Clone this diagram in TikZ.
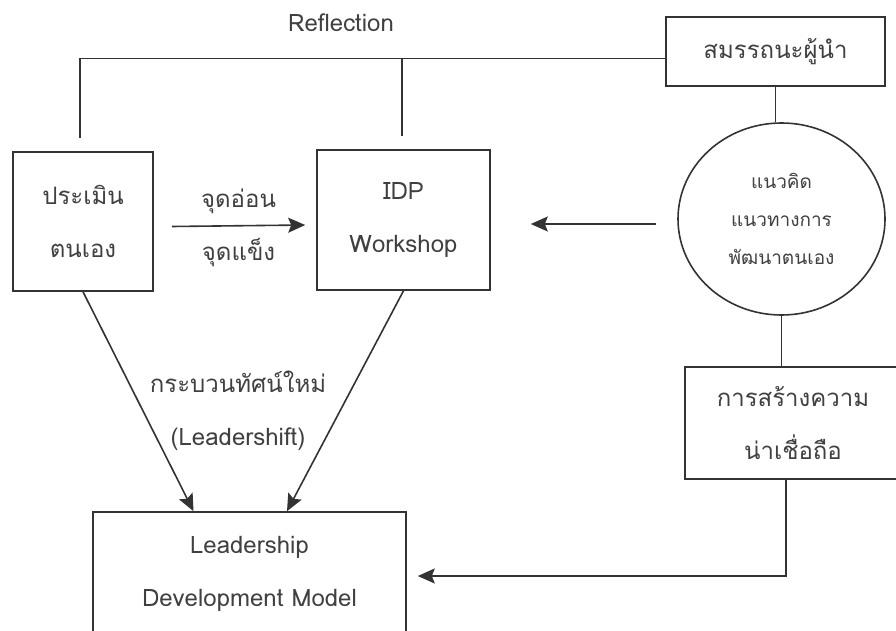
\documentclass[tikz,border=0pt]{standalone}
\usepackage{fontspec}
\newfontfamily\thaifont[Script=Thai]{Loma}
\usetikzlibrary{positioning}
\usetikzlibrary{arrows.meta}
\usetikzlibrary{shapes.geometric}

\begin{document}
\begin{tikzpicture}[x=1pt,y=-1pt,line width=1.6pt,
        every node/.append style={font=\thaifont\fontsize{24pt}{53pt}\selectfont,align=center,text=black!75}]
        \useasboundingbox (0,0) rectangle (896,631);

        \begin{scope}[every node/.append style={draw=black!80,line width=1.6pt,inner sep=0pt}]
            \node[minimum width=140pt,minimum height=139pt] (self) at (83,221.5) {ประเมิน\\ตนเอง};
            \node[minimum width=173pt,minimum height=140pt] (idp) at (403.5,220) {IDP\\Workshop};
            \node[minimum width=219pt,minimum height=69pt] (comp) at (775.5,51.5) {สมรรถนะผู้นำ};
            \node[ellipse,minimum width=207pt,minimum height=192pt,
                font=\thaifont\fontsize{19pt}{38pt}\selectfont] (concept) at (781.5,219) {แนวคิด\\แนวทางการ\\พัฒนาตนเอง};
            \node[minimum width=216pt,minimum height=112pt] (trust) at (793,423) {การสร้างความ\\น่าเชื่อถือ};
            \node[minimum width=313pt,minimum height=124pt] (ldm) at (249.5,574) {Leadership\\Development Model};
        \end{scope}

        % free text
        \node (refl) at (341,23) {Reflection};
        \node (shift) at (238,411) {กระบวนทัศน์ใหม่\\(Leadershift)};

        \begin{scope}[arr/.style={-{Stealth[length=17pt,width=15pt,inset=3pt]}},draw=black!80]
            \coordinate (reftop) at ([yshift=-7pt]comp.west);
            \coordinate (tl) at (80,138);
            \coordinate (tm) at (402,136);
            \draw (tl) |- (reftop);
            \draw (tm) -- (tm |- reftop);
            \draw (comp.south) -- (comp.south |- concept.north);
            \draw (concept.south) -- (concept.south |- trust.north);
            \draw [arr] ([xshift=18pt,yshift=-5pt]self.east) -- node[above=8pt] {จุดอ่อน} node[below=8pt] {จุดแข็ง} ([xshift=-11pt,yshift=-5pt]idp.west);
            \draw [arr] ([xshift=-21pt,yshift=-5pt]concept.west) -- ([xshift=40pt,yshift=-4pt]idp.east);
            \draw [arr] (self.south) -- ([xshift=-56pt]ldm.north);
            \draw [arr] (idp.south) -- ([xshift=37.5pt]ldm.north);
            \draw [arr] ([xshift=-7pt]trust.south) |- ([xshift=11pt,yshift=-2pt]ldm.east);
        \end{scope}
    \end{tikzpicture}
\end{document}
